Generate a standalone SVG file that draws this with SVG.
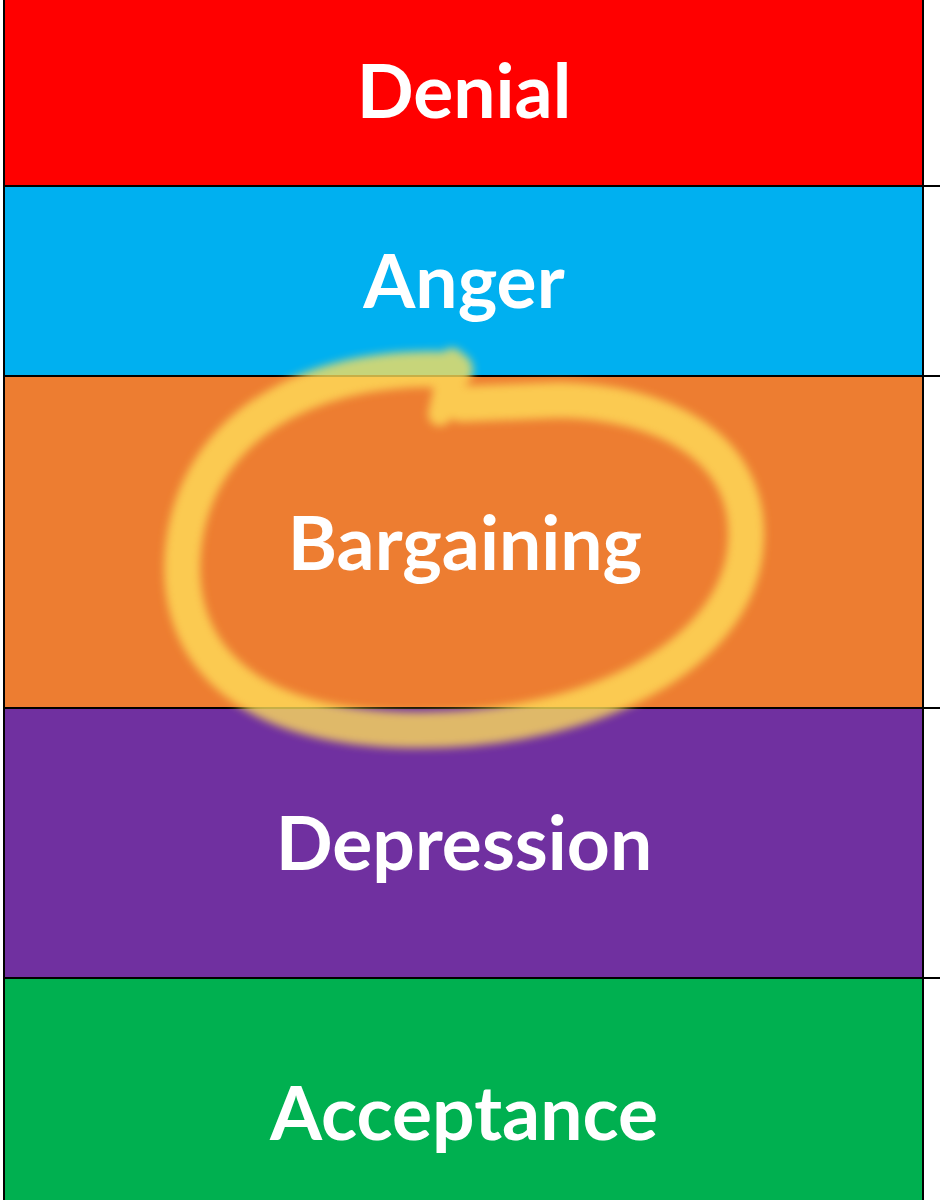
<svg xmlns="http://www.w3.org/2000/svg" width="940" height="1200" viewBox="0 0 940 1200">
<style>
.band{stroke:#000;stroke-width:2}
.lbl{font-family:Lato,"Open Sans","Liberation Sans",sans-serif;font-weight:700;font-size:75px;fill:#fff;text-anchor:middle}
.tick{stroke:#000;stroke-width:2}
</style>
<defs>
<filter id="blur" x="-20%" y="-20%" width="140%" height="140%"><feGaussianBlur stdDeviation="4"/></filter>
</defs>
<rect x="0" y="0" width="940" height="1200" fill="#fff"/>
<g id="denial"><rect class="band" x="4" y="-2" width="919" height="188" fill="#FF0000"/><text class="lbl" x="464" y="118">Denial</text></g>
<g id="anger"><rect class="band" x="4" y="186" width="919" height="190" fill="#00B0F0"/><text class="lbl" x="464" y="308">Anger</text></g>
<g id="bargaining"><rect class="band" x="4" y="376" width="919" height="332" fill="#ED7D31"/><text class="lbl" x="465" y="570">Bargaining</text></g>
<g id="depression"><rect class="band" x="4" y="708" width="919" height="270" fill="#7030A0"/><text class="lbl" x="464" y="870">Depression</text></g>
<g id="acceptance"><rect class="band" x="4" y="978" width="919" height="224" fill="#00B050"/><text class="lbl" x="464" y="1140">Acceptance</text></g>
<g id="ticks">
<line class="tick" x1="923" y1="186" x2="940" y2="186"/>
<line class="tick" x1="923" y1="376" x2="940" y2="376"/>
<line class="tick" x1="923" y1="708" x2="940" y2="708"/>
<line class="tick" x1="923" y1="978" x2="940" y2="978"/>
</g>
<g id="loop" filter="url(#blur)" opacity="0.78" fill="none" stroke="#FFE05A" stroke-linecap="round" stroke-linejoin="round">
<path stroke-width="36" d="M 455,370 C 330,362 210,412 186,530 C 165,640 230,730 420,730 C 600,730 742,650 746,540 C 750,445 660,402 560,400 L 462,404"/>
<path stroke-width="24" d="M 452,360 L 440,414"/>
</g>
</svg>
